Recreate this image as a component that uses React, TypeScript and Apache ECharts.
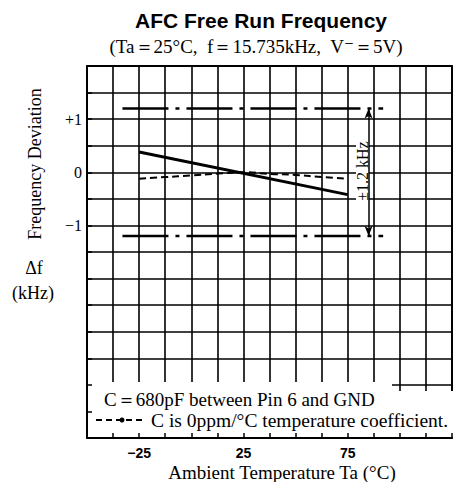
import React, { useEffect, useRef } from "react";
import * as echarts from "echarts";

// Axis ranges (°C / kHz)
const xMin = -50;
const xMax = 125;
const xStep = 12.5;
const yMin = -5;
const yMax = 2;
const yStep = 0.5;
const xTickLabels = [-25, 25, 75];
const yTickLabels = [1, 0, -1];

// Solid line: free-run frequency deviation vs temperature
const solidTemps = [-25, 75];
const solidDev = [0.38, -0.42];

// Dashed line: C with 0ppm/°C temperature coefficient
const dashedTemps = [-25, -12.5, 0, 12.5, 25, 37.5, 50, 62.5, 75];
const dashedDev = [-0.12, -0.09, -0.06, -0.025, 0, -0.03, -0.05, -0.09, -0.12];

// ±1.2 kHz limit lines
const limitTemps = [-33, 92];
const limitValue = 1.2;
const arrowTemp = 85;

const SERIF = "'Liberation Serif', 'Times New Roman', 'DejaVu Serif', serif";
const SANS = "'Liberation Sans', Arial, Helvetica, sans-serif";
const NARROW = "'Liberation Sans Narrow', 'Liberation Sans', Arial, sans-serif";
const INK = "#000";

export default function App() {
  const ref = useRef<HTMLDivElement>(null);

  useEffect(() => {
    if (!ref.current) return;
    const chart = echarts.init(ref.current, undefined, { renderer: "svg" });

    const fmtY = (v: number) => {
      if (!yTickLabels.includes(v)) return "";
      if (v > 0) return "+" + v;
      if (v < 0) return "\u2212" + Math.abs(v);
      return "0";
    };
    const fmtX = (v: number) => {
      if (!xTickLabels.includes(v)) return "";
      return v < 0 ? "\u2212" + Math.abs(v) : String(v);
    };

    const txt = (
      text: string,
      x: number,
      y: number,
      font: string,
      align: string,
      extra: any = {}
    ) => ({
      type: "text",
      x,
      y,
      z: 10,
      ...extra,
      style: {
        text,
        font,
        fill: INK,
        align,
        verticalAlign: "middle",
        textAlign: align,
        textVerticalAlign: "middle",
      },
    });

    const option: any = {
      animation: false,
      backgroundColor: "#fff",
      grid: { left: 87, top: 66, width: 367, height: 372, containLabel: false },
      xAxis: [
        {
          type: "value",
          min: xMin,
          max: xMax,
          interval: xStep,
          position: "top",
          z: 0,
          axisLine: { show: true, onZero: false, lineStyle: { color: INK, width: 2 } },
          axisTick: { show: false },
          axisLabel: { show: false },
          splitLine: { show: true, lineStyle: { color: INK, width: 1.6 } },
        },
        {
          type: "value",
          min: xMin,
          max: xMax,
          interval: xStep,
          position: "bottom",
          z: 5,
          axisLine: { show: true, onZero: false, lineStyle: { color: INK, width: 2 } },
          axisTick: { show: true, inside: true, length: 5, lineStyle: { color: INK, width: 1.5 } },
          axisLabel: {
            show: true,
            margin: 8,
            formatter: fmtX,
            color: INK,
            fontFamily: NARROW,
            fontWeight: "bold",
            fontSize: 14,
          },
          splitLine: { show: false },
        },
      ],
      yAxis: [
        {
          type: "value",
          min: yMin,
          max: yMax,
          interval: yStep,
          position: "right",
          z: 0,
          axisLine: { show: true, onZero: false, lineStyle: { color: INK, width: 2 } },
          axisTick: { show: false },
          axisLabel: { show: false },
          splitLine: { show: true, lineStyle: { color: INK, width: 1.6 } },
        },
        {
          type: "value",
          min: yMin,
          max: yMax,
          interval: yStep,
          position: "left",
          z: 5,
          axisLine: { show: true, onZero: false, lineStyle: { color: INK, width: 2 } },
          axisTick: { show: true, inside: true, length: 5, lineStyle: { color: INK, width: 1.5 } },
          axisLabel: {
            show: true,
            margin: 5,
            formatter: fmtY,
            color: INK,
            fontFamily: SERIF,
            fontSize: 16,
          },
          splitLine: { show: false },
        },
      ],
      series: [
        {
          type: "line",
          xAxisIndex: 1,
          yAxisIndex: 1,
          data: solidTemps.map((t, i) => [t, solidDev[i]]),
          showSymbol: false,
          symbol: "none",
          lineStyle: { color: INK, width: 3 },
          z: 3,
        },
        {
          type: "line",
          xAxisIndex: 1,
          yAxisIndex: 1,
          data: dashedTemps.map((t, i) => [t, dashedDev[i]]),
          smooth: true,
          showSymbol: false,
          symbol: "none",
          lineStyle: { color: INK, width: 2, type: [7, 4] },
          z: 3,
        },
        {
          type: "line",
          xAxisIndex: 1,
          yAxisIndex: 1,
          data: limitTemps.map((t) => [t, limitValue]),
          showSymbol: false,
          symbol: "none",
          lineStyle: { color: INK, width: 2.5, type: [46, 7, 4, 7] },
          z: 3,
          markLine: {
            silent: true,
            symbol: ["arrow", "arrow"],
            symbolSize: [6, 10],
            label: { show: false },
            lineStyle: { color: INK, width: 1.5, type: "solid" },
            data: [[{ coord: [arrowTemp, limitValue] }, { coord: [arrowTemp, -limitValue] }]],
          },
        },
        {
          type: "line",
          xAxisIndex: 1,
          yAxisIndex: 1,
          data: limitTemps.map((t) => [t, -limitValue]),
          showSymbol: false,
          symbol: "none",
          lineStyle: { color: INK, width: 2.5, type: [46, 7, 4, 7] },
          z: 3,
        },
      ],
      graphic: [
        { type: "rect", z: 4, shape: { x: 88, y: 382, width: 304, height: 55 }, style: { fill: "#fff" } },
        { type: "rect", z: 4, shape: { x: 392, y: 391, width: 61, height: 46 }, style: { fill: "#fff" } },
        { type: "rect", z: 4, shape: { x: 356, y: 138, width: 13, height: 66 }, style: { fill: "#fff" } },
        txt("\u00b11.2 kHz", 362, 171, `16px ${SERIF}`, "center", { rotation: Math.PI / 2 }),
        txt("AFC Free Run Frequency", 261, 20, `bold 21px ${SANS}`, "center"),
        txt("(Ta\uFF1D25°C,  f\uFF1D15.735kHz,  V\u207B\uFF1D5V)", 256, 46, `19px ${SERIF}`, "center"),
        txt("Frequency Deviation", 35, 164, `18px ${SERIF}`, "center", { rotation: Math.PI / 2 }),
        txt("\u0394f", 34, 268, `18px ${SERIF}`, "center"),
        txt("(kHz)", 33, 293, `18px ${SERIF}`, "center"),
        txt("Ambient Temperature Ta (°C)", 282, 472, `19px ${SERIF}`, "center"),
        txt("C\uFF1D680pF between Pin 6 and GND", 104, 399, `19px ${SERIF}`, "left"),
        {
          type: "line",
          z: 10,
          shape: { x1: 96, y1: 420, x2: 146, y2: 420 },
          style: { stroke: INK, lineWidth: 2, lineDash: [6, 4] },
        },
        { type: "circle", z: 10, shape: { cx: 122, cy: 420, r: 2.5 }, style: { fill: INK } },
        txt("C is 0ppm/°C temperature coefficient.", 151, 420, `19.5px ${SERIF}`, "left"),
      ],
    };

    chart.setOption(option);
    return () => chart.dispose();
  }, []);

  return (
    <div
      ref={ref}
      style={{ position: "fixed", left: 0, top: 0, width: 455, height: 482, background: "#fff" }}
    />
  );
}
